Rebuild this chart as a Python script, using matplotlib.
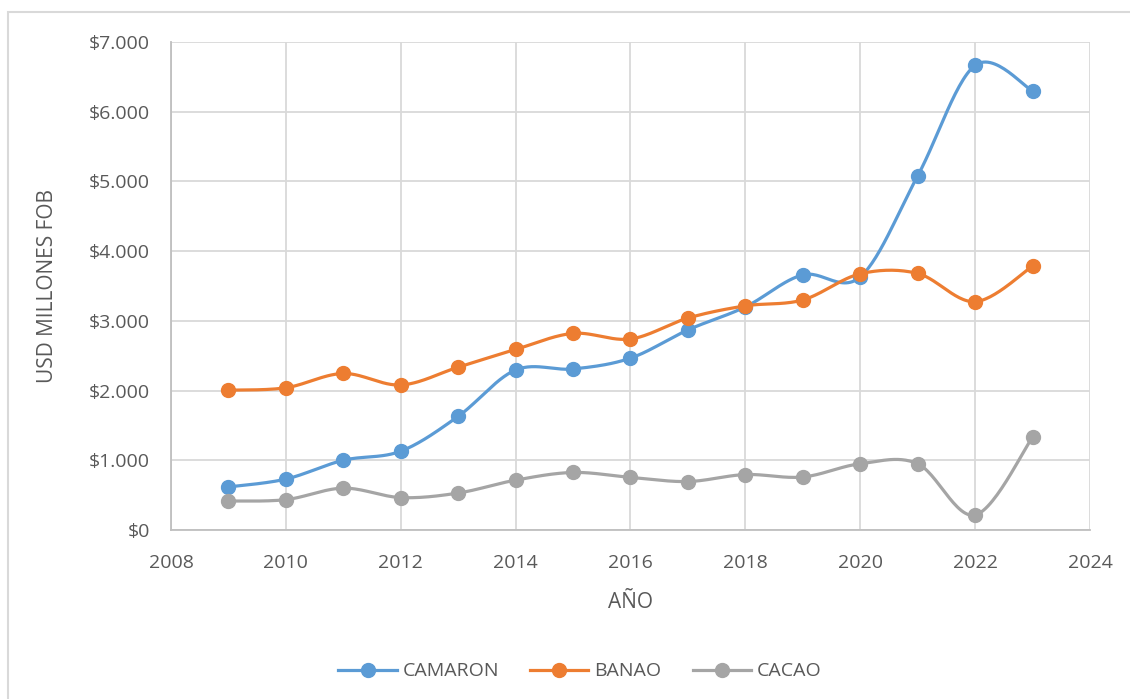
import numpy as np
import matplotlib.pyplot as plt
from matplotlib.patches import Rectangle
from matplotlib.ticker import FuncFormatter

years = [2009, 2010, 2011, 2012, 2013, 2014, 2015, 2016, 2017, 2018, 2019, 2020, 2021, 2022, 2023]
camaron = [617, 730, 1000, 1130, 1630, 2295, 2310, 2465, 2870, 3200, 3660, 3630, 5080, 6665, 6300]
banao = [2005, 2040, 2245, 2080, 2335, 2590, 2820, 2740, 3040, 3215, 3300, 3675, 3680, 3275, 3785]
cacao = [415, 435, 600, 465, 530, 715, 825, 755, 695, 795, 760, 950, 950, 215, 1330]

series = [("CAMARON", camaron, "#5B9BD5"),
          ("BANAO", banao, "#ED7D31"),
          ("CACAO", cacao, "#A5A5A5")]

text_color = "#595959"
grid_color = "#D9D9D9"
plt.rcParams['font.family'] = ['Open Sans', 'DejaVu Sans']


def smooth(x, y, n=30):
    # Catmull-Rom style bezier, similar to Excel "smoothed line"
    x = np.asarray(x, float)
    y = np.asarray(y, float)
    px = np.concatenate([[x[0]], x, [x[-1]]])
    py = np.concatenate([[y[0]], y, [y[-1]]])
    xs, ys = [], []
    t = np.linspace(0, 1, n)
    for i in range(1, len(px) - 2):
        p0 = np.array([px[i], py[i]])
        p3 = np.array([px[i + 1], py[i + 1]])
        c1 = p0 + (p3 - np.array([px[i - 1], py[i - 1]])) / 6
        c2 = p3 - (np.array([px[i + 2], py[i + 2]]) - p0) / 6
        b = (np.outer((1 - t) ** 3, p0) + np.outer(3 * (1 - t) ** 2 * t, c1)
             + np.outer(3 * (1 - t) * t ** 2, c2) + np.outer(t ** 3, p3))
        xs.extend(b[:, 0])
        ys.extend(b[:, 1])
    return np.array(xs), np.array(ys)


fig = plt.figure(figsize=(11.3, 6.99), dpi=100)
ax = fig.add_axes([0.1513, 0.2418, 0.8133, 0.6981])

for name, vals, col in series:
    sx, sy = smooth(years, vals)
    ax.plot(sx, sy, color=col, lw=2.3, solid_capstyle='round', zorder=3)
    ax.plot(years, vals, 'o', color=col, ms=10, zorder=4)
    ax.plot([], [], '-o', color=col, lw=2.3, ms=10, label=name)

ax.set_xlim(2008, 2024)
ax.set_ylim(0, 7000)
ax.set_xticks(range(2008, 2025, 2))
ax.set_yticks(range(0, 7001, 1000))
ax.yaxis.set_major_formatter(FuncFormatter(lambda v, p: "$" + f"{int(v):,}".replace(",", ".")))
ax.grid(True, color=grid_color, lw=1.3)
ax.set_axisbelow(True)
for s in ["top", "right"]:
    ax.spines[s].set_visible(False)
for s in ["left", "bottom"]:
    ax.spines[s].set_color("#BFBFBF")
    ax.spines[s].set_linewidth(1.3)
ax.tick_params(axis='y', length=0, labelsize=14, colors=text_color, pad=15)
ax.tick_params(axis='x', length=0, labelsize=14, colors=text_color, pad=17)

ax.set_xlabel("AÑO", fontsize=15, color=text_color, labelpad=15)
ax.set_ylabel("USD MILLONES FOB", fontsize=15, color=text_color, labelpad=22)

ax.legend(loc='center', bbox_to_anchor=(0.445, -0.29), ncol=3, frameon=False,
          fontsize=14, labelcolor=text_color, handlelength=3.0, columnspacing=1.6,
          handletextpad=0.3)

fig.patches.append(Rectangle((8 / 1130, -0.1), 1.2, 1 - 12 / 699 + 0.1,
                             transform=fig.transFigure, fill=False,
                             edgecolor=grid_color, lw=1.5))

fig.savefig("out.png", dpi=100)
